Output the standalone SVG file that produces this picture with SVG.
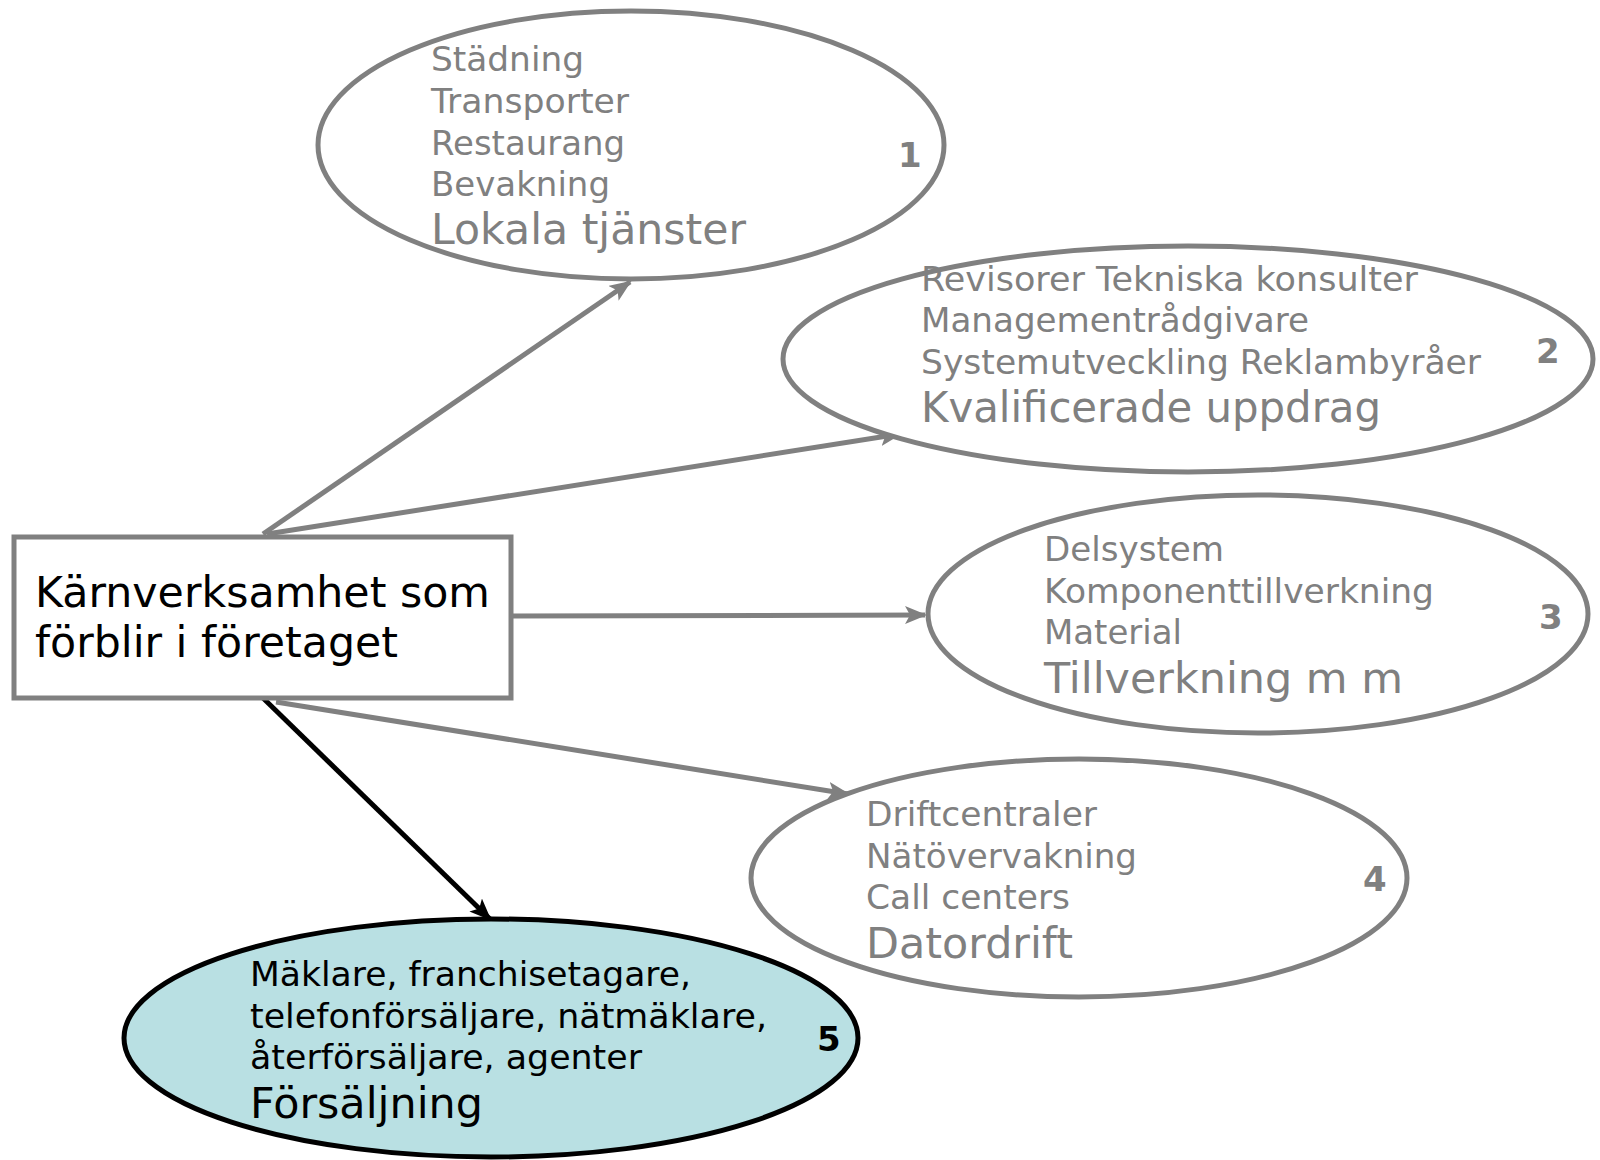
<svg xmlns="http://www.w3.org/2000/svg" width="1600" height="1160" viewBox="0 0 1600 1160">
<style>
text{font-family:"DejaVu Sans","Verdana",sans-serif}
.g{fill:#808080}
.s{font-size:34.5px}
.b{font-size:42.5px}
.n{font-size:34px;font-weight:bold}
.oval{fill:#ffffff;stroke:#808080;stroke-width:5}
.conn{stroke:#808080;stroke-width:5;fill:none;marker-end:url(#ag)}
.connk{stroke:#000000;stroke-width:5;fill:none;marker-end:url(#ak)}
</style>
<defs>
<marker id="ag" markerUnits="userSpaceOnUse" markerWidth="24" markerHeight="18" refX="20" refY="9" orient="auto">
<path d="M0,0 L22,9 L0,18 L5,9 Z" fill="#808080"/>
</marker>
<marker id="ak" markerUnits="userSpaceOnUse" markerWidth="24" markerHeight="18" refX="20" refY="9" orient="auto">
<path d="M0,0 L22,9 L0,18 L5,9 Z" fill="#000000"/>
</marker>
</defs>
<g id="connectors">
<line class="conn" x1="263" y1="534" x2="630" y2="282"/>
<line class="conn" x1="267" y1="534" x2="900" y2="434"/>
<line class="conn" x1="513" y1="616" x2="925" y2="615"/>
<line class="conn" x1="276" y1="702" x2="848" y2="794"/>
<line class="connk" x1="263" y1="698" x2="490" y2="919"/>
</g>
<g id="node1">
<ellipse class="oval" cx="631" cy="145" rx="313" ry="134"/>
<text class="g s" x="431" y="71" textLength="153" lengthAdjust="spacingAndGlyphs">Städning</text>
<text class="g s" x="431" y="113" textLength="198" lengthAdjust="spacingAndGlyphs">Transporter</text>
<text class="g s" x="431" y="155" textLength="194" lengthAdjust="spacingAndGlyphs">Restaurang</text>
<text class="g s" x="431" y="196" textLength="179" lengthAdjust="spacingAndGlyphs">Bevakning</text>
<text class="g b" x="431" y="244" textLength="315" lengthAdjust="spacingAndGlyphs">Lokala tjänster</text>
<text class="g n" x="898" y="167">1</text>
</g>
<g id="node2">
<ellipse class="oval" cx="1188" cy="359" rx="405" ry="113"/>
<text class="g s" x="921" y="291" textLength="497" lengthAdjust="spacingAndGlyphs">Revisorer Tekniska konsulter</text>
<text class="g s" x="921" y="332" textLength="388" lengthAdjust="spacingAndGlyphs">Managementrådgivare</text>
<text class="g s" x="921" y="374" textLength="560" lengthAdjust="spacingAndGlyphs">Systemutveckling Reklambyråer</text>
<text class="g b" x="921" y="422" textLength="460" lengthAdjust="spacingAndGlyphs">Kvalificerade uppdrag</text>
<text class="g n" x="1536" y="363">2</text>
</g>
<g id="node3">
<ellipse class="oval" cx="1258" cy="614" rx="330" ry="119"/>
<text class="g s" x="1044" y="561" textLength="180" lengthAdjust="spacingAndGlyphs">Delsystem</text>
<text class="g s" x="1044" y="603" textLength="390" lengthAdjust="spacingAndGlyphs">Komponenttillverkning</text>
<text class="g s" x="1044" y="644" textLength="138" lengthAdjust="spacingAndGlyphs">Material</text>
<text class="g b" x="1044" y="693" textLength="359" lengthAdjust="spacingAndGlyphs">Tillverkning m m</text>
<text class="g n" x="1539" y="629">3</text>
</g>
<g id="node4">
<ellipse class="oval" cx="1079" cy="878" rx="328" ry="119"/>
<text class="g s" x="866" y="826" textLength="231" lengthAdjust="spacingAndGlyphs">Driftcentraler</text>
<text class="g s" x="866" y="868" textLength="271" lengthAdjust="spacingAndGlyphs">Nätövervakning</text>
<text class="g s" x="866" y="909" textLength="204" lengthAdjust="spacingAndGlyphs">Call centers</text>
<text class="g b" x="866" y="958" textLength="207" lengthAdjust="spacingAndGlyphs">Datordrift</text>
<text class="g n" x="1363" y="891">4</text>
</g>
<g id="node5">
<ellipse cx="491" cy="1038" rx="367" ry="119" fill="#b9e0e3" stroke="#000000" stroke-width="5"/>
<text class="s" x="250" y="986" fill="#000" textLength="441" lengthAdjust="spacingAndGlyphs">Mäklare, franchisetagare,</text>
<text class="s" x="250" y="1028" fill="#000" textLength="517" lengthAdjust="spacingAndGlyphs">telefonförsäljare, nätmäklare,</text>
<text class="s" x="250" y="1069" fill="#000" textLength="392" lengthAdjust="spacingAndGlyphs">återförsäljare, agenter</text>
<text class="b" x="250" y="1118" fill="#000" textLength="233" lengthAdjust="spacingAndGlyphs">Försäljning</text>
<text class="n" x="817" y="1051" fill="#000">5</text>
</g>
<g id="core">
<rect x="14" y="537" width="497" height="161" fill="#ffffff" stroke="#808080" stroke-width="5"/>
<text x="35" y="607" font-size="43" fill="#000" textLength="455" lengthAdjust="spacingAndGlyphs">Kärnverksamhet som</text>
<text x="35" y="657" font-size="43" fill="#000" textLength="363" lengthAdjust="spacingAndGlyphs">förblir i företaget</text>
</g>
</svg>
